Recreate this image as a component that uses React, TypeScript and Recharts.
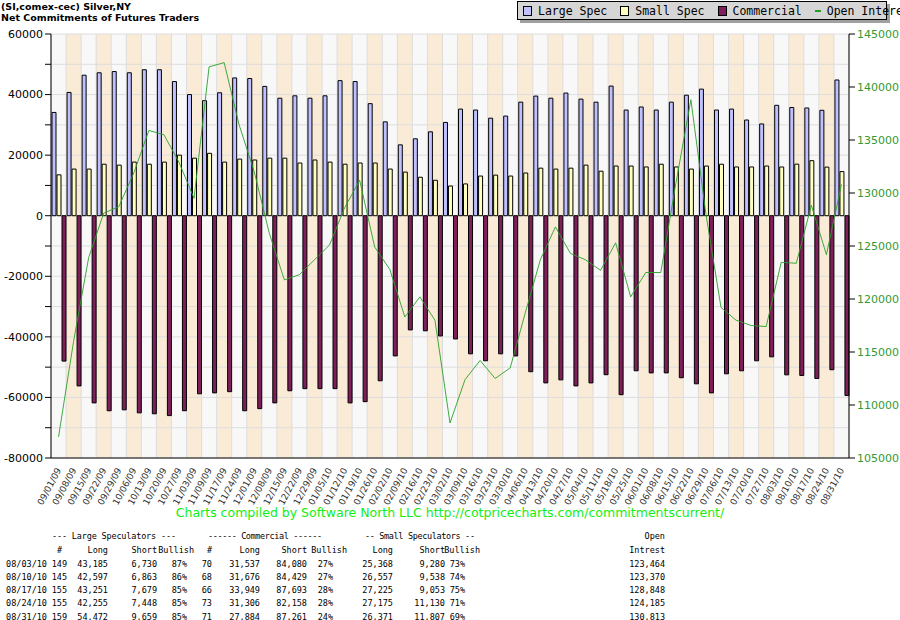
import React from 'react';
import { ComposedChart, Bar, Line, XAxis, YAxis, CartesianGrid } from 'recharts';

const dates = ['09/01/09','09/08/09','09/15/09','09/22/09','09/29/09','10/06/09','10/13/09','10/20/09','10/27/09','11/03/09','11/09/09','11/17/09','11/24/09','12/01/09','12/08/09','12/15/09','12/22/09','12/29/09','01/05/10','01/12/10','01/19/10','01/26/10','02/02/10','02/09/10','02/16/10','02/23/10','03/02/10','03/09/10','03/16/10','03/23/10','03/30/10','04/06/10','04/13/10','04/20/10','04/27/10','05/04/10','05/11/10','05/18/10','05/25/10','06/01/10','06/08/10','06/15/10','06/22/10','06/29/10','07/06/10','07/13/10','07/20/10','07/27/10','08/03/10','08/10/10','08/17/10','08/24/10','08/31/10'];
const largeSpec = [34100,40700,46400,47200,47600,47200,48200,48200,44300,40000,38000,40600,45500,45300,42700,38800,39600,38800,39600,44600,44300,37000,31000,23400,25400,27700,30800,35200,34900,32200,32900,37500,39500,38800,40500,38500,37500,42800,34900,35900,34900,37500,39800,41800,34900,35200,31600,30300,36455,35734,35572,34807,44813];
const smallSpec = [13500,15400,15400,17000,16700,17700,17000,17700,20000,19000,20600,17700,18700,18400,19000,19000,17400,18400,17700,17000,17400,17400,15400,14400,12700,11700,9800,10500,13100,13400,13100,14100,15700,15400,15700,16700,14700,16400,16400,16100,17000,16100,15400,16400,17000,16100,16100,16400,16088,17019,18172,16045,14564];
const commercial = [-48000,-56200,-61800,-64400,-64100,-65100,-65400,-66000,-64400,-58800,-58500,-58100,-64400,-63700,-61800,-57800,-57100,-57100,-57100,-61800,-61400,-54500,-46300,-37700,-38000,-39700,-40700,-45600,-47900,-45600,-46300,-51500,-55200,-54200,-56200,-55200,-52500,-59100,-51200,-51900,-51900,-53500,-55500,-58500,-52200,-51200,-47900,-46600,-52543,-52753,-53744,-50852,-59377];
const openInterest = [107000,116000,123900,128100,128700,131900,135900,135500,132900,129500,141900,142300,136400,132000,126200,121800,122300,123700,125100,128600,131200,124900,122800,118300,120200,118000,108300,112400,114200,112500,113500,118700,123700,126800,124300,123700,122700,125300,120200,122500,122500,130900,138800,128000,119200,118000,117500,117400,123464,123370,128848,124185,130813];

const leftTicks = [-80000,-70000,-60000,-50000,-40000,-30000,-20000,-10000,0,10000,20000,30000,40000,50000,60000];
const rightTicks = [105000,110000,115000,120000,125000,130000,135000,140000,145000];

const tableHeader1 = [
  { t: '--- Large Speculators ---', x: 52, w: 124 },
  { t: '------ Commercial ------', x: 208, w: 114 },
  { t: '-- Small Speculators --', x: 365, w: 110 },
];
const tableHeader2 = [
  { t: '#', x: 62 }, { t: 'Long', x: 108 }, { t: 'Short', x: 157 }, { t: 'Bullish', x: 194 },
  { t: '#', x: 212 }, { t: 'Long', x: 260 }, { t: 'Short', x: 307 }, { t: 'Bullish', x: 347 },
  { t: 'Long', x: 393 }, { t: 'Short', x: 445 }, { t: 'Bullish', x: 480 }, { t: 'Intrest', x: 665 },
];
const tableRows = [
  ['08/03/10','149','43,185','6,730','87%','70','31,537','84,080','27%','25,368','9,280','73%','123,464'],
  ['08/10/10','145','42,597','6,863','86%','68','31,676','84,429','27%','26,557','9,538','74%','123,370'],
  ['08/17/10','155','43,251','7,679','85%','66','33,949','87,693','28%','27,225','9,053','75%','128,848'],
  ['08/24/10','155','42,255','7,448','85%','73','31,306','82,158','28%','27,175','11,130','71%','124,185'],
  ['08/31/10','159','54,472','9,659','85%','71','27,884','87,261','24%','26,371','11,807','69%','130,813'],
];
const colEnds = [47, 67, 108, 157, 187, 212, 260, 307, 333, 393, 445, 465, 665];

const data = dates.map((d, i) => ({
  date: d, large: largeSpec[i], small: smallSpec[i], comm: commercial[i], oi: openInterest[i],
}));

const N = dates.length;
const mono = '"DejaVu Sans Mono", monospace';

const XTick = (props: any) => {
  const { x, y, payload } = props;
  return (
    <text x={x + 3} y={y + 4} transform={`rotate(-62, ${x + 3}, ${y + 4})`} textAnchor="end"
      fontSize={9} fontFamily="DejaVu Sans" fill="#333">{payload.value}</text>
  );
};

const LegendBox = () => {
  const items = [
    { name: 'Large Spec', c: '#c0c0ff', type: 'sq' },
    { name: 'Small Spec', c: '#ffffc0', type: 'sq' },
    { name: 'Commercial', c: '#7f1f5a', type: 'sq' },
    { name: 'Open Interest', c: '#22a022', type: 'ln' },
  ];
  return (
    <div style={{ position: 'absolute', left: 517, top: 1, width: 370, height: 19, background: '#d6d6d6',
      border: '1px solid #000', boxShadow: '3px 3px 0 #a0a0a0', display: 'flex', alignItems: 'center',
      fontFamily: mono, fontSize: 11.5, color: '#000', boxSizing: 'border-box', paddingLeft: 5, gap: 13,
      whiteSpace: 'nowrap' }}>
      {items.map((it) => (
        <div key={it.name} style={{ display: 'flex', alignItems: 'center', gap: 6, whiteSpace: 'nowrap' }}>
          {it.type === 'sq'
            ? <span style={{ width: 7, height: 8, background: it.c, border: '1px solid #000', display: 'inline-block' }} />
            : <span style={{ width: 6, height: 2, background: it.c, display: 'inline-block' }} />}
          <span>{it.name}</span>
        </div>
      ))}
    </div>
  );
};

export default function App() {
  return (
    <div style={{ position: 'fixed', left: 0, top: 0, width: 900, height: 620, background: '#fff', overflow: 'hidden' }}>
      <div style={{ position: 'absolute', left: 1, top: 1, fontFamily: 'DejaVu Sans', fontWeight: 'bold', fontSize: 9.5, lineHeight: '11px', color: '#000' }}>
        <div>(SI,comex-cec) Silver,NY</div>
        <div>Net Commitments of Futures Traders</div>
      </div>
      <ComposedChart width={900} height={620} data={data} barCategoryGap={1} barGap={1}
        margin={{ top: 34, right: 0, bottom: 107, left: 0 }} style={{ position: 'absolute', left: 0, top: 0 }}>
        <CartesianGrid stroke="#dddddd" verticalFill={['#f8f8f8', '#faebd7']}
          verticalCoordinatesGenerator={({ offset }: any) =>
            Array.from({ length: N + 1 }, (_, i) => offset.left + (i * offset.width) / N)}
          yAxisId="left" />
        <XAxis dataKey="date" interval={0} tick={<XTick />} height={55} stroke="#000" tickLine={false} />
        <YAxis yAxisId="left" domain={[-80000, 60000]} ticks={leftTicks} width={51} stroke="#000"
          tick={{ fontSize: 11, fontFamily: 'DejaVu Sans', fill: '#000' }}
          tickFormatter={(v: number) => (v % 20000 === 0 ? String(v) : '')} allowDataOverflow />
        <YAxis yAxisId="right" orientation="right" domain={[105000, 145000]} ticks={rightTicks} width={51} stroke="#000"
          tick={{ fontSize: 11, fontFamily: 'DejaVu Sans', fill: '#339933' }} allowDataOverflow />
        <Bar yAxisId="left" dataKey="large" fill="#c0c0ff" stroke="#000" strokeWidth={1} barSize={4} isAnimationActive={false} />
        <Bar yAxisId="left" dataKey="small" fill="#ffffc0" stroke="#000" strokeWidth={1} barSize={4} isAnimationActive={false} />
        <Bar yAxisId="left" dataKey="comm" fill="#7f1f5a" stroke="#000" strokeWidth={1} barSize={4} isAnimationActive={false} />
        <Line yAxisId="right" dataKey="oi" stroke="#2aa02a" strokeWidth={0.9} dot={false} type="linear" isAnimationActive={false} />
      </ComposedChart>
      <LegendBox />
      <svg width={900} height={620} style={{ position: 'absolute', left: 0, top: 0, pointerEvents: 'none' }}>
        <text x={450} y={517} textAnchor="middle" fontFamily="DejaVu Sans" fontSize={12.5} fill="#11ee11">
          Charts compiled by Software North LLC  http://cotpricecharts.com/commitmentscurrent/
        </text>
        <g fontFamily={mono} fontSize={8.5} fill="#000">
          {tableHeader1.map((h) => (
            <text key={h.t} x={h.x} y={538.5} textLength={h.w} lengthAdjust="spacing" style={{ whiteSpace: 'pre' }}>{h.t}</text>
          ))}
          <text x={665} y={538.5} textAnchor="end">Open</text>
          {tableHeader2.map((h, i) => (
            <text key={i} x={h.x} y={552.5} textAnchor="end">{h.t}</text>
          ))}
          {tableRows.map((r, ri) => r.map((c, ci) => (
            <text key={`${ri}-${ci}`} x={colEnds[ci]} y={566.5 + ri * 13.3} textAnchor="end">{c}</text>
          )))}
        </g>
      </svg>
    </div>
  );
}
